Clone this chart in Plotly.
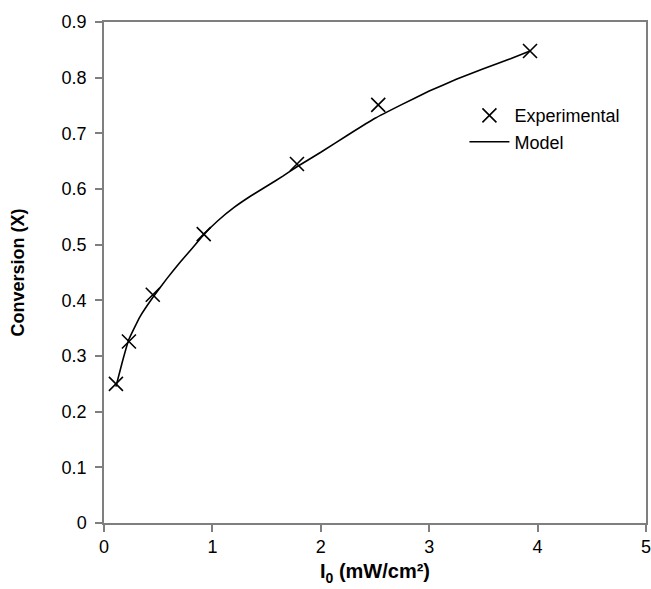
import plotly.graph_objects as go

# Experimental data
exp_I0 = [0.11, 0.23, 0.45, 0.92, 1.78, 2.53, 3.93]
exp_X = [0.25, 0.326, 0.41, 0.519, 0.645, 0.751, 0.848]

# Model curve
model_I0 = [0.11, 0.17, 0.23, 0.33, 0.45, 0.58, 0.70, 0.82, 0.92, 1.05, 1.20, 1.35, 1.50,
            1.65, 1.78, 2.00, 2.25, 2.50, 2.75, 3.00, 3.25, 3.50, 3.75, 3.93]
model_X = [0.245, 0.29, 0.33, 0.37, 0.405, 0.439, 0.468, 0.495, 0.518, 0.543, 0.567, 0.587,
           0.605, 0.623, 0.64, 0.666, 0.697, 0.727, 0.752, 0.776, 0.797, 0.816, 0.834, 0.848]

x_ticks = [0, 1, 2, 3, 4, 5]
y_ticks = [0, 0.1, 0.2, 0.3, 0.4, 0.5, 0.6, 0.7, 0.8, 0.9]

fig = go.Figure()
fig.add_trace(go.Scatter(
    x=exp_I0, y=exp_X, mode="markers", name="Experimental",
    marker=dict(symbol="x-thin-open", size=14, color="black",
                line=dict(color="black", width=1.6)),
))
fig.add_trace(go.Scatter(
    x=model_I0, y=model_X, mode="lines", name="Model",
    line=dict(color="black", width=1.6, shape="spline", smoothing=0.3),
))

axis_common = dict(
    showgrid=False, zeroline=False, showline=True, linecolor="#7f7f7f",
    linewidth=1.5, mirror=True, ticks="outside", ticklen=7,
    tickcolor="#7f7f7f", tickwidth=1.5, automargin=False,
    ticklabeloverflow="allow",
    tickfont=dict(family="Liberation Sans, Arial, sans-serif", size=18, color="black"),
)

fig.update_layout(
    width=651, height=589,
    margin=dict(l=104, r=5, t=22, b=66),
    paper_bgcolor="white", plot_bgcolor="white",
    font=dict(family="Liberation Sans, Arial, sans-serif", color="black"),
    xaxis=dict(range=[0, 5], tickvals=x_ticks,
               title=dict(text="<b>I<sub>0</sub> (mW/cm²)</b>",
                          font=dict(size=20), standoff=8),
               **axis_common),
    yaxis=dict(range=[0, 0.9], tickvals=y_ticks, ticklabelstandoff=5,
               ticktext=[("0" if v == 0 else f"{v:.1f}") for v in y_ticks],
               title=dict(text="<b>Conversion (X)</b>",
                          font=dict(size=18), standoff=32),
               **axis_common),
    legend=dict(x=0.665, y=0.85, xanchor="left", yanchor="top",
                bgcolor="rgba(0,0,0,0)", font=dict(size=18),
                itemwidth=40, tracegroupgap=0),
    showlegend=True,
)

fig.write_html("out.html", config={"displayModeBar": False},
               post_script="document.body.style.margin='0px';")
